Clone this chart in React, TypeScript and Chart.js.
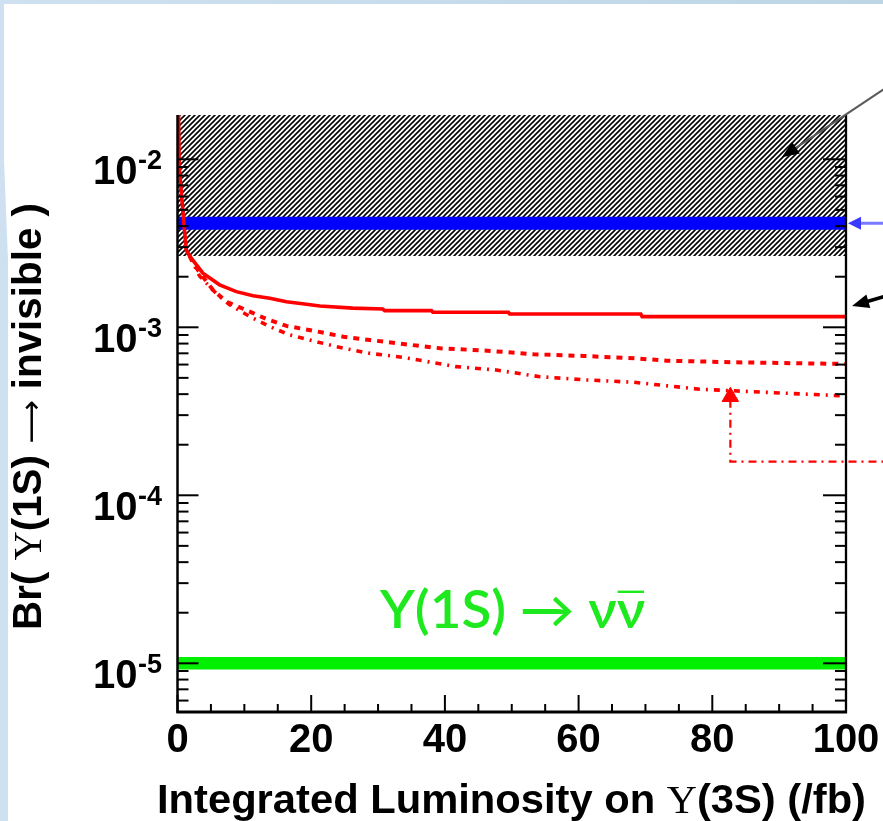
import React, { useEffect, useRef } from 'react';
import { Chart, registerables } from 'chart.js';

Chart.register(...registerables);

const W = 883;
const H = 821;

// Axis ranges
const xMin = 0;
const xMax = 100;
const yMin = 5.13e-6;
const yMax = 0.01835;

// Red solid curve (Br upper limit vs luminosity)
const lumSolid = [0.1, 0.25, 1.3, 1.8, 3.8, 6.3, 8.8, 11.3, 13.8, 16.3, 18.7, 21.3, 26.2, 30.7, 31.0, 38.0, 38.2, 49.5, 49.7, 69.3, 69.5, 100];
const brSolid = [0.03, 0.009, 2.9e-3, 2.66e-3, 2.10e-3, 1.79e-3, 1.63e-3, 1.54e-3, 1.49e-3, 1.42e-3, 1.38e-3, 1.34e-3, 1.30e-3, 1.285e-3, 1.256e-3, 1.256e-3, 1.228e-3, 1.228e-3, 1.20e-3, 1.20e-3, 1.157e-3, 1.157e-3];

// Red dashed curve
const lumDashed = [1.8, 2.5, 3.8, 5.3, 7.3, 10.8, 13.3, 16.3, 20.3, 24.8, 28.8, 33.8, 39.3, 46.3, 53.3, 60.8, 68.3, 73.2, 83.2, 100];
const brDashed = [2.66e-3, 2.35e-3, 2.00e-3, 1.67e-3, 1.42e-3, 1.24e-3, 1.12e-3, 1.02e-3, 9.54e-4, 8.79e-4, 8.40e-4, 7.95e-4, 7.50e-4, 7.26e-4, 6.91e-4, 6.75e-4, 6.54e-4, 6.33e-4, 6.19e-4, 6.05e-4];

// Red dash-dot curve
const lumDashDot = [1.8, 3.3, 5.8, 7.8, 10.8, 13.8, 16.8, 19.8, 23.8, 28.7, 33.7, 41.7, 47.7, 54.2, 61.2, 68.2, 78.1, 88.1, 100];
const brDashDot = [2.66e-3, 2.02e-3, 1.59e-3, 1.36e-3, 1.16e-3, 1.01e-3, 9.00e-4, 8.40e-4, 7.66e-4, 7.00e-4, 6.63e-4, 5.83e-4, 5.57e-4, 5.08e-4, 4.86e-4, 4.71e-4, 4.28e-4, 4.10e-4, 3.90e-4];

// Horizontal bands
const bandLum = [0, 100];
const hatchLowerBr = 2.66e-3;
const blueBandBr = 4.16e-3;
const greenBandBr = 1.0e-5;

// Red arrow marker
const markerLum = [82.7];
const markerBr = [3.86e-4];
const markerLineLum = [82.7, 82.7, 106];
const markerLineBr = [3.7e-4, 1.585e-4, 1.585e-4];

// Annotation arrows (tips in data coordinates)
const arrowTipLum = [90.4, 100, 100];
const arrowTipBr = [0.0103, 4.16e-3, 1.34e-3];

// Tick labels
const xTickValues = [0, 20, 40, 60, 80, 100];
const xTickLabels = ['0', '20', '40', '60', '80', '100'];
const yTickExponents = [-2, -3, -4, -5];
const yTickSup = ['-2', '-3', '-4', '-5'];

const SANS_B = (s: number) => `bold ${s}px "Liberation Sans", Arial, Helvetica, sans-serif`;
const SERIF = (s: number) => `${s}px "Liberation Serif", "Times New Roman", serif`;
const DEJAVU = (s: number) => `${s}px "DejaVu Sans", sans-serif`;

type Run = { text: string; font: string };

function drawRuns(ctx: CanvasRenderingContext2D, runs: Run[], x: number, y: number, targetW?: number) {
  let total = 0;
  const widths = runs.map((r) => {
    ctx.font = r.font;
    const w = ctx.measureText(r.text).width;
    total += w;
    return w;
  });
  const k = targetW ? targetW / total : 1;
  ctx.save();
  ctx.translate(x, y);
  ctx.scale(k, 1);
  let cx = 0;
  const starts: number[] = [];
  runs.forEach((r, i) => {
    ctx.font = r.font;
    starts.push(cx * k);
    ctx.fillText(r.text, cx, 0);
    cx += widths[i];
  });
  ctx.restore();
  return { starts, widths: widths.map((w) => w * k) };
}

function makeHatch(): CanvasPattern | string {
  const s = 5;
  const c = document.createElement('canvas');
  c.width = s;
  c.height = s;
  const g = c.getContext('2d');
  if (!g) return '#666';
  g.fillStyle = '#ffffff';
  g.fillRect(0, 0, s, s);
  g.strokeStyle = '#000000';
  g.lineWidth = 1.6;
  g.beginPath();
  g.moveTo(-1, s + 1);
  g.lineTo(s + 1, -1);
  g.moveTo(-1, 1);
  g.lineTo(1, -1);
  g.moveTo(s - 1, s + 1);
  g.lineTo(s + 1, s - 1);
  g.stroke();
  const p = g.createPattern(c, 'repeat');
  return p || '#666';
}

function arrow(ctx: CanvasRenderingContext2D, tx: number, ty: number, fx: number, fy: number, lineColor: string, lw: number, headColor: string, L: number, hw: number) {
  const dx = fx - tx;
  const dy = fy - ty;
  const d = Math.hypot(dx, dy);
  const ux = dx / d;
  const uy = dy / d;
  const bx = tx + ux * L;
  const by = ty + uy * L;
  ctx.save();
  ctx.strokeStyle = lineColor;
  ctx.lineWidth = lw;
  ctx.beginPath();
  ctx.moveTo(fx, fy);
  ctx.lineTo(bx - ux * 2, by - uy * 2);
  ctx.stroke();
  ctx.fillStyle = headColor;
  ctx.beginPath();
  ctx.moveTo(tx, ty);
  ctx.lineTo(bx - uy * hw, by + ux * hw);
  ctx.lineTo(bx + uy * hw, by - ux * hw);
  ctx.closePath();
  ctx.fill();
  ctx.restore();
}

const zip = (xs: number[], ys: number[]) => xs.map((x, i) => ({ x, y: ys[i] }));

const decorPlugin = {
  id: 'decor',
  beforeDraw(chart: any) {
    const ctx: CanvasRenderingContext2D = chart.ctx;
    ctx.save();
    const grad = ctx.createLinearGradient(0, 0, W, 0);
    grad.addColorStop(0, '#cfe1f0');
    grad.addColorStop(1, '#bcd6e6');
    ctx.fillStyle = grad;
    ctx.fillRect(0, 0, W, H);
    ctx.fillStyle = '#ffffff';
    ctx.beginPath();
    ctx.moveTo(4, 4);
    ctx.lineTo(W, 4);
    ctx.lineTo(W, H);
    ctx.lineTo(8, H);
    ctx.lineTo(8, 260);
    ctx.lineTo(4, 160);
    ctx.closePath();
    ctx.fill();
    ctx.restore();
  },
  afterDatasetsDraw(chart: any) {
    const ctx: CanvasRenderingContext2D = chart.ctx;
    const xs = chart.scales.x;
    const ys = chart.scales.y;
    const { left, right, top, bottom } = chart.chartArea;
    ctx.save();
    ctx.strokeStyle = '#000';
    ctx.lineCap = 'butt';
    const seg = (x1: number, y1: number, x2: number, y2: number) => {
      ctx.beginPath();
      ctx.moveTo(x1, y1);
      ctx.lineTo(x2, y2);
      ctx.stroke();
    };
    // y ticks (log)
    ctx.lineWidth = 2;
    for (let e = -7; e <= -1; e++) {
      for (let m = 1; m <= 9; m++) {
        const v = m * Math.pow(10, e);
        if (v < yMin || v > yMax) continue;
        const y = ys.getPixelForValue(v);
        const major = m === 1;
        seg(left, y, left + (major ? 21 : 11), y);
        seg(right, y, right - (major ? 23 : 11), y);
      }
    }
    // x ticks
    for (let v = xMin; v <= xMax; v += 5) {
      const x = xs.getPixelForValue(v);
      const len = v % 20 === 0 ? 17 : 8;
      seg(x, bottom, x, bottom - len);
    }
    // axis lines
    ctx.lineWidth = 2.5;
    seg(left, top, left, bottom + 1);
    ctx.lineWidth = 2.3;
    seg(right, top, right, bottom + 1);
    ctx.lineWidth = 3;
    seg(left - 1, bottom, right + 1, bottom);

    // x tick labels
    ctx.fillStyle = '#000';
    ctx.textBaseline = 'alphabetic';
    ctx.textAlign = 'center';
    ctx.font = SANS_B(40);
    xTickValues.forEach((v, i) => {
      ctx.fillText(xTickLabels[i], xs.getPixelForValue(v), bottom + 40);
    });

    // y tick labels
    yTickExponents.forEach((e, i) => {
      const y = ys.getPixelForValue(Math.pow(10, e));
      ctx.textAlign = 'right';
      ctx.font = SANS_B(40);
      ctx.fillText('10', left - 40, y + 25);
      ctx.textAlign = 'left';
      ctx.font = SANS_B(27);
      ctx.fillText(yTickSup[i], left - 39.5, y + 10);
    });

    // x title
    ctx.textAlign = 'left';
    drawRuns(ctx, [
      { text: 'Integrated Luminosity on ', font: SANS_B(41) },
      { text: 'Υ', font: SERIF(41) },
      { text: '(3S) (/fb)', font: SANS_B(41) },
    ], 157, bottom + 101, 709);

    // y title
    ctx.save();
    ctx.translate(43, 630);
    ctx.rotate(-Math.PI / 2);
    drawRuns(ctx, [
      { text: 'Br( ', font: SANS_B(40) },
      { text: 'Υ', font: SERIF(40) },
      { text: '(1S) ', font: SANS_B(40) },
      { text: '⟶', font: DEJAVU(30) },
      { text: ' invisible )', font: SANS_B(40) },
    ], 0, -2, 427);
    ctx.restore();

    // green label
    ctx.fillStyle = '#1ee81e';
    const gy = ys.getPixelForValue(greenBandBr) - 35;
    const gf = '600 51px Lato, "DejaVu Sans", sans-serif';
    const res = drawRuns(ctx, [
      { text: 'Y(1S) → ν', font: gf },
      { text: 'ν', font: gf },
    ], 380, gy, 265);
    ctx.strokeStyle = '#1ee81e';
    ctx.lineWidth = 2.4;
    seg(380 + res.starts[1] + 1, gy - 36.5, 380 + res.starts[1] + res.widths[1] - 1, gy - 36.5);

    // annotation arrows from the slide
    const t0x = xs.getPixelForValue(arrowTipLum[0]);
    const t0y = ys.getPixelForValue(arrowTipBr[0]);
    arrow(ctx, t0x, t0y, t0x + 150, t0y - 100, '#5a5a5a', 2, '#000', 17, 7);
    const t1x = xs.getPixelForValue(arrowTipLum[1]) + 2;
    const t1y = ys.getPixelForValue(arrowTipBr[1]);
    arrow(ctx, t1x, t1y, t1x + 60, t1y, '#7a7aff', 3, '#3a3aff', 13, 6.5);
    const t2x = xs.getPixelForValue(arrowTipLum[2]) + 6;
    const t2y = ys.getPixelForValue(arrowTipBr[2]);
    arrow(ctx, t2x, t2y, t2x + 62, t2y - 18, '#000', 3.5, '#000', 17, 7);

    ctx.restore();
  },
};

export default function App() {
  const ref = useRef<HTMLCanvasElement | null>(null);
  useEffect(() => {
    if (!ref.current) return;
    const hatch = makeHatch();
    const chart = new Chart(ref.current, {
      type: 'line',
      data: {
        datasets: [
          {
            label: 'excluded',
            data: bandLum.map((x) => ({ x, y: hatchLowerBr })),
            borderWidth: 0,
            pointRadius: 0,
            fill: 'end',
            backgroundColor: hatch as any,
            order: 10,
          },
          {
            label: 'blue band',
            data: bandLum.map((x) => ({ x, y: blueBandBr })),
            borderColor: '#0000ff',
            borderWidth: 13,
            borderCapStyle: 'butt',
            pointRadius: 0,
            fill: false,
            order: 8,
          },
          {
            label: 'green band',
            data: bandLum.map((x) => ({ x, y: greenBandBr })),
            borderColor: '#00f000',
            borderWidth: 12.5,
            borderCapStyle: 'butt',
            pointRadius: 0,
            fill: false,
            order: 8,
          },
          {
            label: 'solid',
            data: zip(lumSolid, brSolid),
            borderColor: '#ff0000',
            borderWidth: 3.6,
            pointRadius: 0,
            fill: false,
            order: 3,
          },
          {
            label: 'dashed',
            data: zip(lumDashed, brDashed),
            borderColor: '#ff0000',
            borderWidth: 4,
            borderDash: [6, 6],
            pointRadius: 0,
            fill: false,
            order: 3,
          },
          {
            label: 'dashdot',
            data: zip(lumDashDot, brDashDot),
            borderColor: '#ff0000',
            borderWidth: 3.6,
            borderDash: [6, 6, 2, 6],
            pointRadius: 0,
            fill: false,
            order: 3,
          },
          {
            label: 'marker line',
            data: zip(markerLineLum, markerLineBr),
            borderColor: '#ff0000',
            borderWidth: 2.2,
            borderDash: [8, 5, 2, 5],
            pointRadius: 0,
            fill: false,
            clip: false as any,
            order: 2,
          },
          {
            label: 'marker',
            data: zip(markerLum, markerBr),
            showLine: false,
            pointStyle: 'triangle',
            pointRadius: 9.5,
            pointBackgroundColor: '#ff0000',
            pointBorderColor: '#ff0000',
            pointBorderWidth: 1,
            order: 1,
          },
        ] as any,
      },
      options: {
        responsive: false,
        animation: false,
        devicePixelRatio: 1,
        layout: { padding: { left: 177.5, right: 37, top: 115, bottom: 109 } },
        scales: {
          x: { type: 'linear', min: xMin, max: xMax, display: false },
          y: { type: 'logarithmic', min: yMin, max: yMax, display: false },
        },
        plugins: {
          legend: { display: false },
          tooltip: { enabled: false },
        },
        elements: { line: { tension: 0 } },
      },
      plugins: [decorPlugin as any],
    });
    return () => chart.destroy();
  }, []);
  return (
    <div style={{ position: 'absolute', left: 0, top: 0, width: W, height: H }}>
      <canvas ref={ref} width={W} height={H} style={{ display: 'block', width: W, height: H }} />
    </div>
  );
}
